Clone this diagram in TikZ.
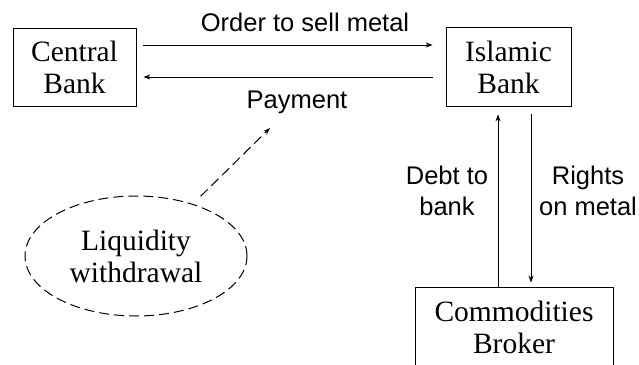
\documentclass[tikz,border=0pt]{standalone}
\usepackage{fontspec}
\setmainfont{Liberation Serif}
\setsansfont{Liberation Sans}
\usetikzlibrary{arrows.meta,shapes.geometric}

\begin{document}
\begin{tikzpicture}[x=1pt,y=-1pt,
    box/.style={draw,line width=0.8pt,align=center,font=\fontsize{29.5}{32}\selectfont},
    lbl/.style={align=center,font=\sffamily\fontsize{25.5}{31}\selectfont},
    arr/.style={line width=0.8pt,-{Stealth[length=7pt,width=5pt]}}]
    \useasboundingbox (0,0) rectangle (639,364);
    \node[box,minimum width=123,minimum height=78] (cbank) at (74.5,67) {Central\\Bank};
    \node[box,minimum width=125,minimum height=79] (ibank) at (508.5,67) {Islamic\\Bank};
    \node[box,minimum width=198,minimum height=80] (broker) at (514,327) {Commodities\\Broker};
    \node[draw,ellipse,line width=1pt,dash pattern=on 10pt off 5pt,align=center,
        font=\fontsize{29.5}{32}\selectfont,minimum width=222,minimum height=120] (liq) at (136,256) {Liquidity\\withdrawal};
    \node[lbl,anchor=base] (order) at (305,31) {Order to sell metal};
    \node[lbl,anchor=base] (pay) at (297,108) {Payment};
    \node[lbl] (debt) at (447,191) {Debt to\\bank};
    \node[lbl] (rights) at (588,191) {Rights\\on metal};
    \draw[arr] ([xshift=7,yshift=22]cbank.east) -- ([xshift=-13,yshift=22]ibank.west);
    \draw[arr] ([xshift=-13,yshift=-10]ibank.west) -- ([xshift=7,yshift=-10]cbank.east);
    \draw[arr] ([xshift=-16]broker.north) -- ([xshift=-10.5,yshift=-7.5]ibank.south);
    \draw[arr] ([xshift=22.5,yshift=-7.5]ibank.south) -- ([xshift=17,yshift=4]broker.north);
    \draw[arr,line width=1pt,dash pattern=on 10pt off 5pt] ([xshift=1,yshift=10]liq.38) -- ([xshift=-27,yshift=-20]pay.base);
\end{tikzpicture}
\end{document}
